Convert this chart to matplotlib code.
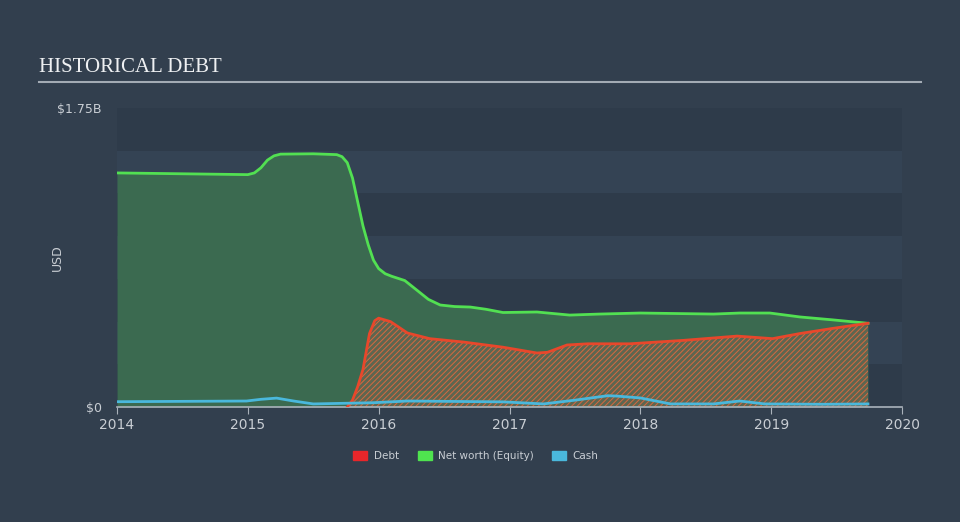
from matplotlib import pyplot as plt
from matplotlib.patches import Patch

# values in billions USD
eq_dates = [2014.0, 2014.5, 2015.0, 2015.05, 2015.1, 2015.15, 2015.2, 2015.25, 2015.5,
            2015.68, 2015.72, 2015.76, 2015.8, 2015.84, 2015.88, 2015.92, 2015.96, 2016.0,
            2016.05, 2016.1, 2016.2, 2016.29, 2016.38, 2016.47, 2016.58, 2016.7, 2016.82,
            2016.95, 2017.21, 2017.46, 2017.69, 2018.0, 2018.56, 2018.76, 2018.99,
            2019.22, 2019.47, 2019.74]
equity = [1.37, 1.365, 1.36, 1.37, 1.40, 1.445, 1.47, 1.48, 1.482,
          1.477, 1.465, 1.43, 1.34, 1.20, 1.06, 0.95, 0.86, 0.81,
          0.78, 0.765, 0.74, 0.685, 0.63, 0.597, 0.588, 0.585, 0.572,
          0.553, 0.556, 0.538, 0.544, 0.55, 0.544, 0.55, 0.55,
          0.527, 0.51, 0.49]

debt_dates = [2014.0, 2015.76, 2015.8, 2015.84, 2015.88, 2015.93, 2015.97, 2016.0,
              2016.09, 2016.22, 2016.39, 2016.65, 2016.95, 2017.21, 2017.29, 2017.44,
              2017.6, 2017.92, 2018.33, 2018.74, 2019.01, 2019.22, 2019.47, 2019.74]
debt = [0.0, 0.0, 0.04, 0.12, 0.22, 0.43, 0.505, 0.52,
        0.50, 0.433, 0.40, 0.38, 0.35, 0.316, 0.32, 0.363,
        0.37, 0.37, 0.39, 0.415, 0.40, 0.43, 0.46, 0.49]

cash_dates = [2014.0, 2014.99, 2015.1, 2015.22, 2015.35, 2015.5, 2015.96, 2016.22,
              2016.95, 2017.26, 2017.5, 2017.75, 2017.82, 2018.0, 2018.23, 2018.56,
              2018.76, 2018.95, 2019.4, 2019.74]
cash = [0.031, 0.035, 0.045, 0.052, 0.035, 0.018, 0.025, 0.035,
        0.030, 0.018, 0.04, 0.066, 0.064, 0.053, 0.018, 0.018,
        0.035, 0.018, 0.016, 0.018]

bg = "#323f4e"
band_dark = "#2e3b4a"
band_light = "#344354"
green = "#52e052"
red = "#e8472b"
blue = "#4ab8dc"
text_col = "#c9ced4"

plt.rcParams["hatch.linewidth"] = 0.7

fig = plt.figure(figsize=(9.6, 5.22), dpi=100, facecolor=bg)
ax = fig.add_axes([117 / 960, 115 / 522, 785 / 960, 299 / 522])
ax.set_facecolor(bg)

# alternating horizontal bands
for i in range(7):
    ax.axhspan(i * 0.25, (i + 1) * 0.25, color=band_dark if i % 2 == 0 else band_light,
               lw=0, zorder=0)

ax.fill_between(eq_dates, 0, equity, color="#3b6a50", lw=0, zorder=1)
ax.fill_between(debt_dates, 0, debt, facecolor="#5d6650", edgecolor="#d8683f",
                hatch="//////", lw=0, zorder=2)
ax.plot(eq_dates, equity, color=green, lw=2, zorder=4, solid_joinstyle="round")
ax.plot(debt_dates[1:], debt[1:], color=red, lw=2, zorder=4, solid_joinstyle="round")
ax.plot(cash_dates, cash, color=blue, lw=2, zorder=5, solid_joinstyle="round")

ax.set_xlim(2014, 2020)
ax.set_ylim(0, 1.75)
ax.set_xticks([2014, 2015, 2016, 2017, 2018, 2019, 2020])
ax.set_xticklabels(["2014", "2015", "2016", "2017", "2018", "2019", "2020"])
ax.set_yticks([0, 1.75])
ax.set_yticklabels(["$0", "$1.75B"])
ax.tick_params(axis="x", colors="#aab2bb", labelcolor=text_col, labelsize=10,
               length=5, direction="out", pad=3)
ax.tick_params(axis="y", length=0, labelcolor=text_col, labelsize=9, pad=11)
for side in ["top", "right", "left"]:
    ax.spines[side].set_visible(False)
ax.spines["bottom"].set_color("#aab2bb")
ax.spines["bottom"].set_linewidth(1.2)
ax.set_ylabel("USD", color=text_col, fontsize=9)
ax.yaxis.set_label_coords(-53 / 785, 0.5)

fig.text(39 / 960, 1 - 67 / 522, "HISTORICAL DEBT", family="Liberation Serif",
         fontsize=15, color="#eef0f2", va="center", ha="left")
fig.add_artist(plt.Line2D([39 / 960, 921 / 960], [1 - 82 / 522, 1 - 82 / 522],
                          color="#a3abb4", lw=1.5))

handles = [Patch(color="#e8262a", label="Debt"),
           Patch(color="#4fe34f", label="Net worth (Equity)"),
           Patch(color="#4ab8dc", label="Cash")]
fig.legend(handles=handles, loc="center", bbox_to_anchor=(476 / 960, 1 - 456 / 522),
           ncol=3, frameon=False, fontsize=7.5, labelcolor=text_col,
           handlelength=1.35, handleheight=1.0, columnspacing=1.8, handletextpad=0.6)

fig.savefig("out.png", dpi=100, facecolor=bg)
